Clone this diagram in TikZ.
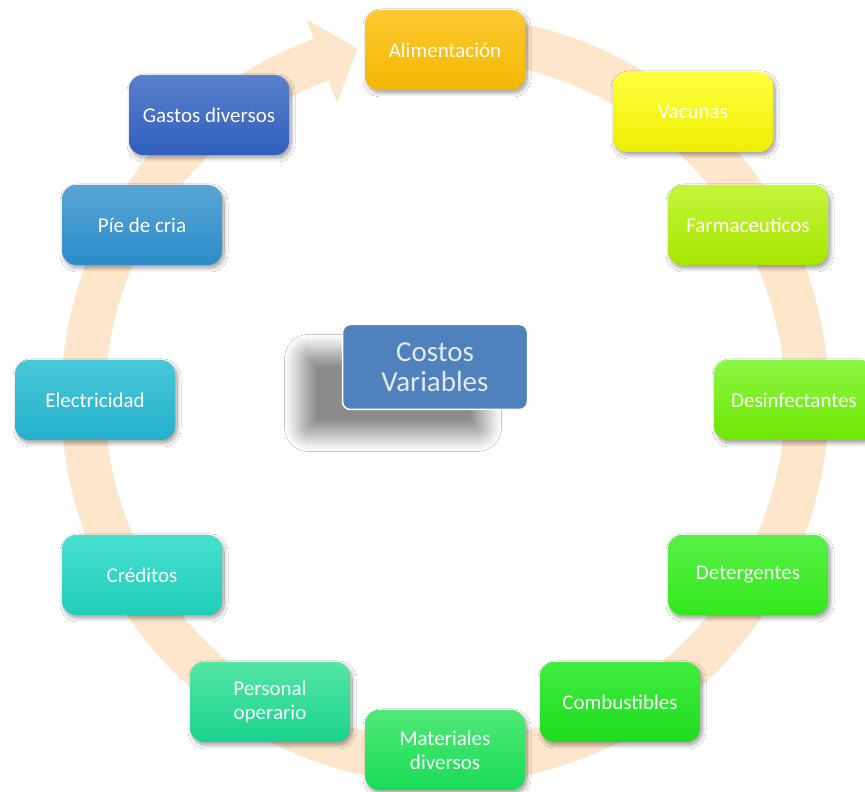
\documentclass[tikz,border=0pt]{standalone}
\usepackage{fontspec}
\setmainfont{Carlito}
\usetikzlibrary{shadows.blur}
\definecolor{band}{RGB}{253,230,203}
\definecolor{cblue}{HTML}{4F81BD}
\definecolor{ctext}{HTML}{E2E9F2}
\definecolor{alimT}{HTML}{FFC933}\definecolor{alimB}{HTML}{F2B700}
\definecolor{vacT}{HTML}{FFFF40}\definecolor{vacB}{HTML}{EEEE00}
\definecolor{farT}{HTML}{C4F53C}\definecolor{farB}{HTML}{A8E600}
\definecolor{desT}{HTML}{8CF545}\definecolor{desB}{HTML}{6EE800}
\definecolor{detT}{HTML}{58F048}\definecolor{detB}{HTML}{34E81C}
\definecolor{comT}{HTML}{40EC40}\definecolor{comB}{HTML}{1EDC1E}
\definecolor{matT}{HTML}{50E878}\definecolor{matB}{HTML}{18DC55}
\definecolor{perT}{HTML}{55E5A5}\definecolor{perB}{HTML}{18D38E}
\definecolor{creT}{HTML}{48E0CF}\definecolor{creB}{HTML}{20CDB8}
\definecolor{eleT}{HTML}{48C8D8}\definecolor{eleB}{HTML}{25B0CC}
\definecolor{pieT}{HTML}{5AA5D5}\definecolor{pieB}{HTML}{2A8CC8}
\definecolor{gasT}{HTML}{5A80CC}\definecolor{gasB}{HTML}{2F5EBC}
\tikzset{
  costbox/.style 2 args={rounded corners=14pt, minimum width=160pt, minimum height=80pt,
    text=white, align=center, font=\fontsize{21}{24}\selectfont,
    top color=#1, bottom color=#2,
    blur shadow={shadow xshift=2pt, shadow yshift=-3pt, shadow blur radius=4pt,
      shadow blur steps=14, shadow opacity=40}},
  centerbox/.style={rounded corners=8pt, fill=cblue, draw=white, line width=1.5pt,
    minimum width=185pt, minimum height=85pt, text=ctext, align=center,
    font=\fontsize{29}{30}\selectfont,
    blur shadow={shadow xshift=-42pt, shadow yshift=-26pt, shadow blur radius=16pt,
      shadow blur steps=30, shadow opacity=45}}
}
\begin{document}
\begin{tikzpicture}[x=1pt,y=1pt]
\clip (0,0) rectangle (865,792);
\fill[white] (0,0) rectangle (865,792);
\begin{scope}[shift={(445,392)}]
\fill[band] (98:384) arc[start angle=98,end angle=-250,radius=384]
  -- (-250:405) -- (-256:362) -- (-250:316) -- (-250:340)
  arc[start angle=-250,end angle=98,radius=340] -- cycle;
\end{scope}
\node[centerbox] (c) at (435,425) {Costos\\Variables};
\node[costbox={alimT}{alimB}] (alim) at (445,742) {Alimentación};
\node[costbox={vacT}{vacB}] (vac) at (693,680) {Vacunas};
\node[costbox={farT}{farB}] (far) at (748,567) {Farmaceuticos};
\node[costbox={desT}{desB}] (des) at (794,392) {Desinfectantes};
\node[costbox={detT}{detB}] (det) at (748,217) {Detergentes};
\node[costbox={comT}{comB}] (com) at (620,90) {Combustibles};
\node[costbox={matT}{matB}] (mat) at (445,42) {Materiales\\diversos};
\node[costbox={perT}{perB}] (per) at (270,90) {Personal\\operario};
\node[costbox={creT}{creB}] (cre) at (142,217) {Créditos};
\node[costbox={eleT}{eleB}] (ele) at (95,392) {Electricidad};
\node[costbox={pieT}{pieB}] (pie) at (142,567) {Píe de cria};
\node[costbox={gasT}{gasB}] (gas) at (209,677) {Gastos diversos};
\end{tikzpicture}
\end{document}
